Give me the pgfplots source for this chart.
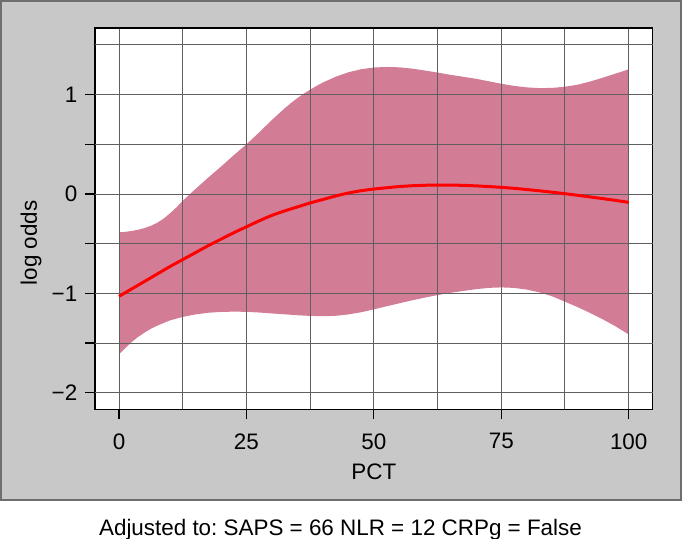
\documentclass[border=0pt]{standalone}
\usepackage{fontspec}
\setmainfont{Liberation Sans}
\usepackage{pgfplots}
\pgfplotsset{compat=1.18}
\definecolor{panel}{RGB}{200,200,200}
\definecolor{panelborder}{RGB}{110,110,110}
\definecolor{bandc}{RGB}{211,124,150}
\definecolor{gridc}{RGB}{95,95,95}
\begin{document}
\frenchspacing
\fontsize{22.5}{27}\selectfont
\begin{tikzpicture}
\useasboundingbox (0,0) rectangle (682bp,539bp);
\draw[fill=panel, draw=panelborder, line width=2bp] (1bp,38.5bp) rectangle (681bp,538bp);
\begin{axis}[
  at={(95bp,129.7bp)}, anchor=south west,
  scale only axis, width=557.7bp, height=381.3bp,
  xmin=-4.71, xmax=104.71, ymin=-2.167, ymax=1.671,
  axis background/.style={fill=white},
  xtick={0,25,50,75,100},
  xticklabels={0,25,50,75,100},
  ytick={-2,-1.5,-1,-0.5,0,0.5,1},
  yticklabels={−2,,−1,,0,,1},
  tick align=outside,
  major tick length=10bp,
  xtick pos=left, ytick pos=left,
  tick style={black, line width=1.2bp},
  axis line style={black, line width=1.5bp},
  ticklabel style={font=\fontsize{22.5}{27}\selectfont, inner sep=0pt},
  xticklabel style={anchor=north, yshift=-14bp},
  yticklabel style={anchor=east, xshift=-7.5bp},
  xlabel={PCT}, ylabel={log odds},
  label style={font=\fontsize{22.5}{27}\selectfont},
  xlabel style={at={(axis description cs:0.5,-0.163)}, anchor=center},
  ylabel style={at={(axis description cs:-0.1148,0.436)}, anchor=center},
  scaled ticks=false,
  /pgf/number format/assume math mode=true,
  clip=false,
]
\addplot[fill=bandc, draw=none] table {
x y
0 -0.386
1.25 -0.381
2.5 -0.372
3.75 -0.36
5 -0.343
6.25 -0.32
7.5 -0.29
8.75 -0.248
10 -0.195
11.25 -0.135
12.5 -0.07
13.75 -0.008
15 0.05
17.5 0.165
20 0.275
22.5 0.39
25 0.50
27.5 0.62
30 0.745
32.5 0.862
33.75 0.916
35 0.965
36.25 1.01
37.5 1.05
38.75 1.088
40 1.122
42.5 1.18
45 1.225
47.5 1.256
50 1.273
52.5 1.279
55 1.275
57.5 1.262
60 1.243
62.5 1.222
65 1.20
67.5 1.18
70 1.16
72.5 1.135
75 1.11
77.5 1.088
80 1.073
82.5 1.066
85 1.068
87.5 1.08
90 1.10
92.5 1.133
95 1.172
97.5 1.213
100 1.255
100 -1.414
97.5 -1.334
95 -1.264
92.5 -1.199
90 -1.139
87.5 -1.084
85 -1.03
82.5 -0.99
80 -0.962
77.5 -0.945
75 -0.94
72.5 -0.945
70 -0.958
67.5 -0.976
65 -0.995
62.5 -1.017
60 -1.043
57.5 -1.07
55 -1.10
52.5 -1.13
50 -1.161
47.5 -1.19
45 -1.212
42.5 -1.226
40 -1.23
37.5 -1.227
35 -1.22
32.5 -1.211
30 -1.202
27.5 -1.193
25 -1.186
22.5 -1.184
20 -1.187
17.5 -1.195
15 -1.212
12.5 -1.237
10 -1.272
7.5 -1.325
6.25 -1.356
5 -1.395
3.75 -1.438
2.5 -1.49
1.25 -1.55
0 -1.614
};
\pgfplotsinvokeforeach{0,12.5,25,37.5,50,62.5,75,87.5,100}{
  \draw[gridc, line width=1bp] (axis cs:#1,-2.16) -- (axis cs:#1,1.664);
}
\pgfplotsinvokeforeach{-2,-1.5,-1,-0.5,0,0.5,1,1.5}{
  \draw[gridc, line width=1bp] (axis cs:-4.69,#1) -- (axis cs:104.69,#1);
}
\addplot[red, line width=3bp, smooth] table {
x y
0 -1.03
2.5 -0.955
5 -0.88
7.5 -0.805
10 -0.73
12.5 -0.66
15 -0.59
17.5 -0.52
20 -0.455
22.5 -0.39
25 -0.33
27.5 -0.27
30 -0.215
32.5 -0.17
35 -0.13
37.5 -0.09
40 -0.055
42.5 -0.02
45 0.01
47.5 0.033
50 0.05
52.5 0.063
55 0.075
57.5 0.083
60 0.088
62.5 0.09
65 0.09
67.5 0.087
70 0.082
72.5 0.075
75 0.067
77.5 0.057
80 0.045
82.5 0.032
85 0.018
87.5 0.003
90 -0.013
92.5 -0.03
95 -0.047
97.5 -0.065
100 -0.084
};
\end{axis}
\node[anchor=base, inner sep=0pt] at (340.5bp,4bp) {Adjusted to: SAPS = 66 NLR = 12 CRPg = False};
\end{tikzpicture}
\end{document}
